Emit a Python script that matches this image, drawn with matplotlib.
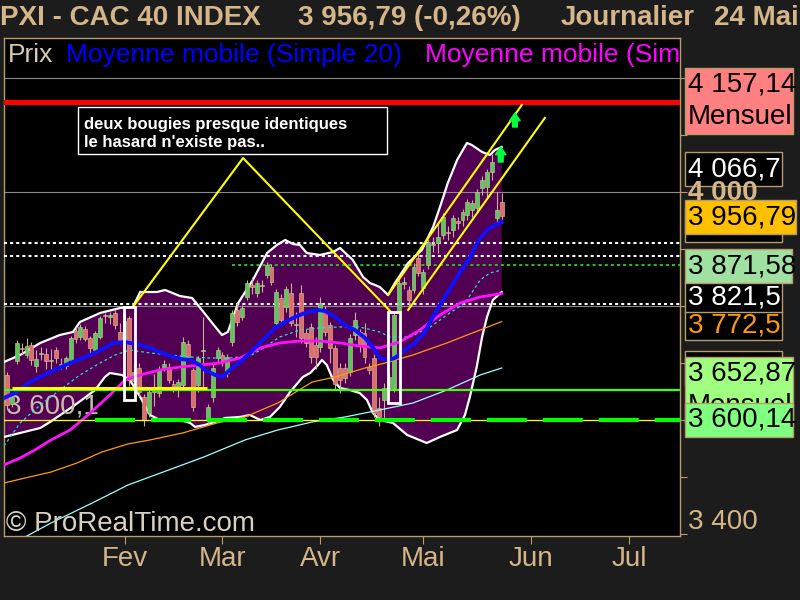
import numpy as np
import matplotlib
matplotlib.use("Agg")
import matplotlib.pyplot as plt
from matplotlib.patches import Rectangle
from matplotlib.transforms import Bbox

plt.rcParams["lines.scale_dashes"] = False
plt.rcParams["font.family"] = ["Liberation Sans", "DejaVu Sans"]

# ---------------- daily candles (bar 0 = 28 Dec) ----------------
opens = [3679, 3628, 3704, 3727, 3714, 3731, 3695, 3716, 3716, 3706,
         3722, 3699, 3695, 3705, 3756, 3746, 3759, 3743, 3722, 3746,
         3784, 3780, 3787, 3754, 3740, 3778, 3668, 3692, 3640, 3612,
         3650, 3647, 3691, 3693, 3664, 3656, 3661, 3734, 3687, 3661,
         3721, 3600, 3640, 3708, 3714, 3682, 3737, 3793, 3780, 3815,
         3836, 3822, 3835, 3854, 3868, 3770, 3813, 3798, 3822, 3767,
         3822, 3752, 3763, 3731, 3728, 3789, 3766, 3726, 3691, 3691,
         3684, 3749, 3754, 3752, 3693, 3709, 3621, 3635, 3656, 3656,
         3789, 3839, 3828, 3828, 3884, 3831, 3872, 3906, 3910, 3924,
         3929, 3933, 3948, 3950, 3959, 3968, 3972, 4006, 4008, 4034,
         3954, 3982]
highs = [3685, 3648, 3740, 3735, 3743, 3736, 3722, 3728, 3726, 3724,
         3728, 3708, 3712, 3748, 3763, 3768, 3765, 3748, 3756, 3782,
         3788, 3790, 3792, 3770, 3790, 3782, 3700, 3700, 3645, 3655,
         3680, 3695, 3705, 3700, 3670, 3672, 3745, 3740, 3692, 3712,
         3780, 3628, 3700, 3728, 3720, 3716, 3792, 3805, 3802, 3845,
         3850, 3846, 3845, 3876, 3873, 3830, 3820, 3835, 3840, 3790,
         3836, 3760, 3770, 3745, 3815, 3800, 3772, 3732, 3700, 3700,
         3750, 3790, 3760, 3770, 3700, 3715, 3640, 3665, 3680, 3790,
         3845, 3850, 3835, 3875, 3890, 3865, 3918, 3920, 3945, 3962,
         3940, 3960, 3955, 3970, 3988, 3985, 4005, 4027, 4040, 4066.7,
         4000, 3998]
lows = [3620, 3622, 3698, 3715, 3708, 3696, 3685, 3706, 3690, 3690,
        3700, 3690, 3690, 3700, 3735, 3740, 3738, 3718, 3718, 3742,
        3770, 3768, 3760, 3735, 3735, 3660, 3655, 3640, 3590, 3605,
        3625, 3640, 3686, 3665, 3650, 3640, 3655, 3705, 3615, 3650,
        3652, 3591, 3632, 3700, 3695, 3676, 3730, 3765, 3775, 3810,
        3820, 3815, 3825, 3848, 3836, 3765, 3768, 3790, 3765, 3745,
        3735, 3728, 3700, 3690, 3720, 3748, 3700, 3655, 3647, 3665,
        3678, 3740, 3720, 3700, 3680, 3605, 3590, 3600, 3650, 3650,
        3785, 3830, 3800, 3822, 3852, 3820, 3865, 3895, 3893, 3918,
        3915, 3920, 3935, 3940, 3950, 3955, 3965, 3995, 3990, 4020,
        3945, 3945]
closes = [3626, 3641, 3735, 3724, 3730, 3705, 3707, 3718, 3703, 3703,
          3708, 3696, 3708, 3743, 3742, 3763, 3742, 3726, 3752, 3778,
          3782, 3784, 3766, 3740, 3773, 3670, 3685, 3650, 3600, 3649,
          3654, 3687, 3698, 3670, 3658, 3666, 3737, 3711, 3623, 3708,
          3723, 3623, 3691, 3722, 3702, 3710, 3787, 3772, 3796, 3840,
          3833, 3840, 3837, 3872, 3842, 3824, 3775, 3830, 3770, 3769,
          3743, 3735, 3711, 3711, 3805, 3754, 3726, 3664, 3670, 3673,
          3743, 3775, 3731, 3711, 3688, 3612, 3605, 3656, 3675, 3784,
          3840, 3841, 3810, 3868, 3857, 3859, 3912, 3908, 3921, 3956,
          3927, 3954, 3945, 3964, 3982, 3980, 3999, 4020, 4034, 4052,
          3968, 3956.79]

month_labels = ["Fev", "Mar", "Avr", "Mai", "Jun", "Jul"]
month_starts = [24, 44, 64, 85, 107, 127]

# ---------------- Bollinger bands (20) ----------------
bb_up_x = [-0.6, 2.7, 6.8, 10.8, 13.5, 14.9, 19.0, 23.1, 25.7, 27.2, 30.6, 32.3,
           35.3, 37.8, 39.8, 41.9, 43.9, 45.1, 47.2, 50.2, 53.1, 55.1, 56.8, 58.4,
           59.8, 61.2, 63.9, 66.6, 68.0, 70.6, 72.7, 74.1, 76.1, 77.8, 79.2, 81.9,
           84.7, 87.0, 88.4, 90.0, 91.9, 93.9, 94.9, 97.0, 98.6, 99.6, 101]
bb_up = [3701.7, 3714.0, 3735.0, 3749.0, 3754.3, 3771.8, 3787.5, 3796.3, 3798.0,
         3824.3, 3824.3, 3827.8, 3817.3, 3813.8, 3792.8, 3770.0, 3749.0, 3754.3,
         3805.0, 3845.3, 3892.6, 3906.6, 3915.4, 3908.4, 3906.6, 3892.6, 3889.1,
         3894.4, 3901.4, 3880.4, 3850.6, 3840.1, 3833.1, 3819.1, 3840.1, 3875.1,
         3897.9, 3938.2, 3973.2, 4015.2, 4055.5, 4085.3, 4081.8, 4069.5, 4064.3,
         4073.0, 4078.3]
bb_lo_x = [-0.6, 2.7, 6.8, 8.8, 13.9, 18.0, 20.0, 21.0, 23.5, 25.1, 27.2, 29.2,
           31.2, 35.3, 37.4, 38.4, 40.4, 42.5, 44.5, 47.6, 49.6, 51.7, 53.7, 55.7,
           57.8, 60.4, 61.9, 63.5, 64.3, 65.3, 66.6, 68.0, 70.0, 72.0, 73.5, 74.7,
           76.1, 78.8, 81.7, 85.7, 88.4, 91.9, 93.5, 94.5, 95.9, 97.0, 98.0, 99.2, 101]
bb_lo = [3570.4, 3577.4, 3586.1, 3596.6, 3626.4, 3652.6, 3675.4, 3682.4, 3678.9,
         3670.1, 3640.4, 3608.9, 3600.1, 3600.1, 3594.9, 3587.9, 3591.4, 3596.6,
         3603.6, 3605.4, 3608.9, 3600.1, 3605.4, 3622.9, 3649.1, 3675.4, 3682.4,
         3696.4, 3705.2, 3696.4, 3670.1, 3656.1, 3652.6, 3647.4, 3635.1, 3612.4,
         3600.1, 3594.9, 3573.9, 3559.8, 3570.4, 3582.6, 3608.9, 3640.4, 3692.9,
         3745.5, 3780.5, 3810.3, 3824.3]

# ---------------- moving averages ----------------
sma20_x = [-0.6, 1.65, 4.7, 8.8, 12.9, 17.0, 20.0, 21.7, 24.1, 27.2, 29.2, 31.2,
           33.3, 35.3, 37.4, 39.4, 40.4, 42.5, 43.9, 45.5, 47.6, 49.6, 50.6, 52.7,
           54.7, 56.8, 58.8, 60.8, 63.5, 64.9, 67.0, 69.0, 71.0, 73.1, 75.1, 76.1,
           77.8, 79.2, 81.2, 83.3, 85.3, 87.4, 89.4, 92.5, 94.5, 96.1, 98.0, 99.6, 101]
sma20 = [3638.6, 3647.4, 3666.6, 3684.2, 3699.9, 3714.0, 3726.2, 3735.0, 3736.7,
         3731.5, 3726.2, 3719.2, 3712.2, 3707.0, 3705.2, 3696.4, 3687.7, 3678.9,
         3675.4, 3687.7, 3701.7, 3717.5, 3726.2, 3743.8, 3761.3, 3771.8, 3780.5,
         3787.5, 3792.8, 3791.0, 3780.5, 3766.5, 3757.8, 3743.8, 3722.7, 3708.7,
         3705.2, 3708.7, 3722.7, 3735.0, 3754.3, 3787.5, 3815.6, 3859.3, 3883.9,
         3911.9, 3932.9, 3941.7, 3946.9]
sma50_x = [-0.6, 2.7, 5.7, 9.0, 12.9, 17.0, 21.0, 24.1, 27.2, 31.2, 35.3, 39.4,
           43.5, 47.6, 51.7, 55.7, 59.8, 63.9, 68.0, 72.0, 76.1, 80.2, 84.3, 88.4,
           92.5, 96.6, 101]
sma50 = [3521.3, 3533.6, 3547.6, 3565.1, 3582.6, 3612.4, 3643.9, 3670.1, 3678.9,
         3687.7, 3692.9, 3696.4, 3699.9, 3708.7, 3726.2, 3735.0, 3738.5, 3738.5,
         3735.0, 3729.7, 3726.2, 3736.7, 3757.8, 3784.0, 3805.0, 3815.6, 3821.5]
ma_dash_x = [-0.6, 2.7, 6.8, 10.8, 14.9, 19.0, 22.1, 25.1, 29.2, 33.3, 37.4, 41.4,
             45.5, 49.6, 51.7, 55.7, 59.8, 63.9, 68.0, 72.0, 76.1, 78.2, 82.3, 86.4,
             90.4, 93.5, 96.6, 98.6, 101]
ma_dash = [3554.6, 3594.9, 3626.4, 3652.6, 3678.9, 3699.9, 3714.0, 3722.7, 3717.5,
           3714.0, 3710.5, 3708.7, 3708.7, 3712.2, 3722.7, 3745.5, 3757.8, 3761.3,
           3763.0, 3763.0, 3754.3, 3745.5, 3745.5, 3763.0, 3787.5, 3805.0, 3845.3,
           3857.6, 3862.8]
ma_orange_x = [-0.6, 3.7, 9.0, 14.3, 19.4, 24.7, 29.2, 35.9, 42.9, 48.6, 55.3, 62.3,
               67.0, 73.1, 77.2, 82.9, 89.8, 96.6, 101]
ma_orange = [3489.7, 3498.5, 3509.0, 3524.8, 3544.1, 3558.1, 3565.1, 3577.4, 3594.9,
             3605.4, 3629.9, 3666.6, 3675.4, 3691.2, 3699.9, 3714.0, 3735.0, 3757.8,
             3772.5]
ma_lcyan_x = [-0.6, 3.7, 9.0, 17.4, 24.7, 31.9, 40.2, 48.6, 55.3, 62.3, 69.0, 76.1,
              82.9, 89.8, 96.6, 101]
ma_lcyan = [3375.6, 3395.2, 3419.7, 3454.7, 3486.2, 3509.0, 3535.3, 3565.1, 3582.6,
            3596.6, 3605.4, 3617.6, 3629.9, 3652.6, 3678.9, 3691.2]

# ---------------- levels & drawings ----------------
monthly_res = 4157.14
monthly_sup = 3652.87
support = 3600.14
green_dotted = 3871.58
white_dotted = [3910.1, 3887.4, 3802.4]
grid_levels = [3600, 3800, 4000, 4200]
user_level = 3657.0
user_level_span = [1.0, 40.8]
tri_x = [25.7, 48.2, 78.6]
tri_y = [3798.0, 4059.0, 3787.5]
chan_up_x, chan_up_y = [77.8, 105.1], [3819.1, 4151.9]
chan_lo_x, chan_lo_y = [81.9, 109.8], [3792.8, 4129.1]
boxed_bars = [25, 79]
boxed_lo = [3635.1, 3629.9]
boxed_hi = [3798.0, 3789.3]
arrow_x = [103.7, 100.8]
arrow_lo = [4113.3, 4052.0]
arrow_hi = [4137.8, 4078.3]

label_values = [4157.14, 4066.7, 3956.79, 3871.58, 3821.5, 3772.5, 3652.87, 3600.14]
label_decimals = [2, 1, 2, 2, 1, 1, 2, 2]


def fr(v, nd):
    return f"{v:,.{nd}f}".replace(",", " ").replace(".", ",")


TAN = "#d4b68a"
EDGE = "#b89c6c"
FIG_BG = "#1c1c1c"
W, H = 800, 600

fig = plt.figure(figsize=(8, 6), dpi=100, facecolor=FIG_BG)
ax = fig.add_axes([4 / W, 64 / H, 676 / W, 498 / H])
ax.set_facecolor("black")
ax.set_xlim(-0.6, 137.4)
ax.set_ylim(3396.9, 4269.2)
for s in ax.spines.values():
    s.set_color(EDGE)
    s.set_linewidth(1)

# Bollinger envelope
ax.fill(np.concatenate([bb_up_x, bb_lo_x[::-1]]),
        np.concatenate([bb_up, bb_lo[::-1]]),
        color="#520052", zorder=1, lw=0)

for g in grid_levels:
    ax.axhline(g, color="#8a8a8a", lw=0.8, zorder=2)

for lv in white_dotted:
    ax.axhline(lv, color="white", lw=1.5, dashes=(2.2, 2.2), zorder=3)
ax.hlines(green_dotted, 45.9, 137.4, color="#22bb22", lw=1.5,
          linestyles=(0, (2.2, 2.2)), zorder=3)

ax.plot(bb_up_x, bb_up, color="white", lw=1.6, zorder=4)
ax.plot(bb_lo_x, bb_lo, color="white", lw=1.6, zorder=4)

# level tag on the left, under the candles
ax.text(-0.2, support + 12, fr(support, 1), color="#c8bfae", fontsize=20,
        va="baseline", ha="left", zorder=4.5)

# candles
idx = np.arange(len(closes))
o = np.array(opens, float)
c = np.array(closes, float)
up = c >= o
ax.vlines(idx, lows, highs, color="#c8b48c", lw=0.8, zorder=5)
body_lo = np.minimum(o, c)
body_h = np.maximum(np.abs(c - o), 2.0)
ax.bar(idx, body_h, bottom=body_lo, width=0.8,
       color=np.where(up, "#5cc85c", "#e06c6c"),
       edgecolor="#d8c8a0", linewidth=0.4, zorder=6)

# moving averages
ax.plot(ma_lcyan_x, ma_lcyan, color="#a0ffff", lw=0.9, zorder=7)
ax.plot(ma_orange_x, ma_orange, color="#ff9a10", lw=0.9, zorder=7)
ax.plot(ma_dash_x, ma_dash, color="#20e0e0", lw=0.9, dashes=(2, 2), zorder=7)
ax.plot(sma50_x, sma50, color="#ff10ff", lw=2.0, zorder=7)
ax.plot(sma20_x, sma20, color="#1010ff", lw=2.8, zorder=8)

# horizontal levels
ax.axhline(monthly_res, color="#ff0000", lw=3.6, zorder=9)
ax.axhline(monthly_sup, color="#40ff00", lw=1.6, zorder=9)
ax.hlines(user_level, *user_level_span, color="#ffff00", lw=2.2, zorder=9)
ax.axhline(support, color="#ffff00", lw=0.9, zorder=9)
ax.hlines(support, 18.0, 137.4, color="#00ff00", lw=3.0,
          linestyles=(0, (28.8, 11.5)), zorder=10)

# trend drawings
ax.plot(tri_x, tri_y, color="#ffff00", lw=1.5, zorder=11)
ax.plot(chan_up_x, chan_up_y, color="#ffff00", lw=1.5, zorder=11)
ax.plot(chan_lo_x, chan_lo_y, color="#ffff00", lw=1.5, zorder=11)
for b, lo, hi in zip(boxed_bars, boxed_lo, boxed_hi):
    ax.add_patch(Rectangle((b - 1.15, lo), 2.3, hi - lo, fill=False,
                           ec="white", lw=2.0, zorder=11))
for x, lo, hi in zip(arrow_x, arrow_lo, arrow_hi):
    ax.annotate("", xy=(x, hi), xytext=(x, lo),
                arrowprops=dict(arrowstyle="simple,head_width=0.75,head_length=0.55,tail_width=0.35",
                                color="#00ff40", shrinkA=0, shrinkB=0, mutation_scale=10),
                zorder=12)

# legend row
ax.text(0.006, 0.965, "Prix", transform=ax.transAxes, color="#d8ccb0",
        fontsize=19, va="center", ha="left", clip_on=True, zorder=20)
ax.text(0.0917, 0.965, "Moyenne mobile (Simple 20)", transform=ax.transAxes,
        color="#0000ff", fontsize=19, va="center", ha="left", clip_on=True, zorder=20)
ax.text(0.6228, 0.965, "Moyenne mobile (Simple 50)", transform=ax.transAxes,
        color="#ff00ff", fontsize=19, va="center", ha="left", clip_on=True, zorder=20)

# axes ticks
ax.yaxis.tick_right()
ax.set_yticks(np.arange(3400, 4201, 100))
ax.tick_params(axis="y", length=5, color=EDGE, labelright=False, labelleft=False)
ax.set_xticks(month_starts)
ax.set_xticklabels(month_labels)
ax.tick_params(axis="x", length=6, color=EDGE, labelcolor=TAN,
               labelsize=20, pad=1)

# ---------------- overlay in pixel space ----------------
ov = fig.add_axes([0, 0, 1, 1], zorder=10)
ov.set_xlim(0, W)
ov.set_ylim(H, 0)
ov.axis("off")
ov.patch.set_alpha(0)


def ypx(v):
    return H - ax.transData.transform((0, v))[1]


ov.text(0, 18, "PXI - CAC 40 INDEX", color=TAN, fontsize=20, fontweight="bold",
        va="center", ha="left")
ov.text(298, 18, f"{fr(closes[-1], 2)} (-0,26%)", color=TAN, fontsize=20,
        fontweight="bold", va="center", ha="left")
ov.text(561, 18, "Journalier", color=TAN, fontsize=20, fontweight="bold",
        va="center", ha="left")
ov.text(714, 18, "24 Mai", color=TAN, fontsize=20, fontweight="bold",
        va="center", ha="left")

# note box
ov.add_patch(Rectangle((78, 107), 309, 47, fc="black", ec="white", lw=1.0, zorder=2))
ov.text(84, 124, "deux bougies presque identiques", color="white", fontsize=12,
        fontweight="bold", va="center", zorder=3)
ov.text(84, 143, "le hasard n'existe pas..", color="white", fontsize=12,
        fontweight="bold", va="center", zorder=3)

ov.text(6, 524, "\u00a9 ProRealTime.com", color="#d8d0c0", fontsize=20,
        va="center", ha="left")


def label_box(center, height, width, fc, lines, tc, z, clip_below=None):
    top = center - height / 2
    ov.add_patch(Rectangle((685, top), width, height, fc=fc, ec=EDGE,
                           lw=1.0, zorder=z))
    n = len(lines)
    for k, t in enumerate(lines):
        yy = center + (k - (n - 1) / 2) * 32
        txt = ov.text(688, yy, t, color=tc, fontsize=20, va="center", ha="left",
                      zorder=z + 0.1)
        if clip_below is not None:
            txt.set_clip_box(Bbox([[680, H - clip_below], [800, H - top]]))
            txt.set_clip_on(True)


vals = [fr(v, d) for v, d in zip(label_values, label_decimals)]
# tags of the other averages, mostly covered by the ones drawn after them
label_box(ypx(sma20[-1]) + 3, 34, 97, "black", [], "white", 1)
label_box(ypx(ma_lcyan[-1]), 34, 97, "black", [], "white", 1)

label_box(ypx(label_values[0]) - 1, 66, 108, "#ff8080", [vals[0], "Mensuel"], "black", 2)
label_box(ypx(label_values[1]) + 15.5, 34, 97, "black", [vals[1]], "white", 2)
ov.text(688, ypx(4000) + 1, "4 000", color=TAN, fontsize=20, fontweight="bold",
        va="center", ha="left", zorder=2.5)
label_box(ypx(label_values[2]) + 1, 34, 111, "#ffc000", [vals[2]], "black", 3)
label_box(ypx(label_values[4]) + 3.5, 32, 97, "black", [vals[4]], "white", 3)
label_box(ypx(label_values[3]) + 1, 34, 107, "#a0e0a0", [vals[3]], "black", 4)
label_box(ypx(label_values[5]) + 4, 28, 97, "black", [vals[5]], "#ff9a10", 4)
label_box(ypx(label_values[6]), 66, 108, "#a0ff80", [vals[6], "Mensuel"], "black", 5,
          clip_below=ypx(label_values[7]) - 17)
label_box(ypx(label_values[7]), 34, 108, "#80ff80", [vals[7]], "black", 6)
ov.text(688, ypx(3400) - 12, "3 400", color=TAN, fontsize=20, va="center", ha="left")

fig.savefig("out.png", dpi=100, facecolor=FIG_BG)
